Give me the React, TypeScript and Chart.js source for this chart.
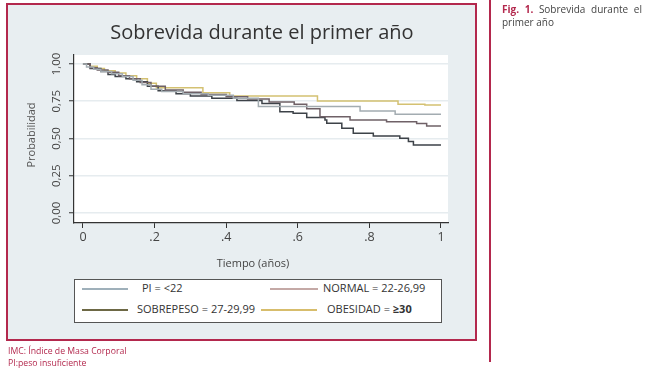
import React, { useEffect, useLayoutEffect, useRef } from "react";
import { Chart, registerables } from "chart.js";

Chart.register(...registerables);

// ---------- text ----------
const TITLE = "Sobrevida durante el primer año";
const Y_TITLE = "Probabilidad";
const X_TITLE = "Tiempo (años)";
const CAPTION_FIG = "Fig. 1.";
const CAPTION_LINE1 = "Sobrevida durante el";
const CAPTION_LINE2 = "primer año";
const NOTE_1 = "IMC: Índice de Masa Corporal";
const NOTE_2 = "PI:peso insuficiente";

// ---------- ticks ----------
const X_TICKS = [0, 0.2, 0.4, 0.6, 0.8, 1];
const X_TICK_LABELS = ["0", ".2", ".4", ".6", ".8", "1"];
const Y_TICKS = [0, 0.25, 0.5, 0.75, 1];
const Y_TICK_LABELS = ["0,00", "0,25", "0,50", "0,75", "1,00"];

// ---------- series ----------
const SERIES_NAMES = ["PI = <22", "NORMAL = 22-26,99", "SOBREPESO = 27-29,99", "OBESIDAD = "];
const OBESIDAD_BOLD = "≥30";

const PI_T = [0, 0.01, 0.03, 0.05, 0.08, 0.11, 0.14, 0.165, 0.19, 0.22, 0.28, 0.35, 0.42, 0.49, 0.774, 0.872, 1];
const PI_S = [1, 0.98, 0.965, 0.95, 0.935, 0.915, 0.89, 0.86, 0.83, 0.815, 0.8, 0.79, 0.77, 0.714, 0.685, 0.662, 0.662];

const NORMAL_T = [0, 0.02, 0.04, 0.07, 0.1, 0.13, 0.16, 0.19, 0.23, 0.28, 0.33, 0.4, 0.46, 0.52, 0.59, 0.625, 0.662, 0.746, 0.848, 0.932, 0.96, 1];
const NORMAL_S = [1, 0.975, 0.96, 0.945, 0.92, 0.9, 0.875, 0.85, 0.825, 0.81, 0.795, 0.78, 0.765, 0.745, 0.73, 0.7, 0.645, 0.624, 0.613, 0.6, 0.584, 0.584];

const SOBREPESO_T = [0, 0.02, 0.05, 0.07, 0.09, 0.12, 0.15, 0.18, 0.21, 0.26, 0.3, 0.36, 0.43, 0.5, 0.55, 0.587, 0.625, 0.676, 0.681, 0.723, 0.755, 0.811, 0.885, 0.909, 0.923, 1];
const SOBREPESO_S = [1, 0.97, 0.95, 0.93, 0.915, 0.9, 0.88, 0.85, 0.82, 0.8, 0.785, 0.77, 0.755, 0.735, 0.68, 0.669, 0.64, 0.624, 0.602, 0.568, 0.535, 0.517, 0.501, 0.479, 0.456, 0.456];

const OBESIDAD_T = [0, 0.02, 0.04, 0.06, 0.09, 0.12, 0.15, 0.18, 0.205, 0.335, 0.41, 0.655, 0.88, 0.955, 1];
const OBESIDAD_S = [1, 0.985, 0.97, 0.955, 0.94, 0.92, 0.9, 0.87, 0.841, 0.807, 0.785, 0.752, 0.73, 0.725, 0.725];

// ---------- style ----------
const FONT = '"Open Sans", "Noto Sans", sans-serif';
const RED = "#b3284d";
const FRAME_BG = "#e8eef1";
const LINE_COLORS = ["#a3acb1", "#6f6167", "#3d4248", "#d4c172"];
const LEGEND_COLORS = ["#9fb0ba", "#c4a9a6", "#6d6845", "#d7bd6c"];

const W = 654;
const H = 374;
const AREA = { left: 74, top: 55, right: 448, bottom: 223 };

const pts = (t: number[], s: number[]) => t.map((x, i) => ({ x, y: s[i] }));

const decorPlugin = {
  id: "decor",
  beforeDraw(chart: any) {
    const { ctx, chartArea: a } = chart;
    ctx.save();
    ctx.fillStyle = "#ffffff";
    ctx.fillRect(a.left, a.top, a.right - a.left, a.bottom - a.top);
    ctx.restore();
  },
  afterDraw(chart: any) {
    const { ctx } = chart;
    const ys = chart.scales.y;
    ctx.save();
    ctx.fillStyle = "#444";
    ctx.font = `11.5px ${FONT}`;
    ctx.textAlign = "center";
    ctx.textBaseline = "middle";
    Y_TICKS.forEach((v, i) => {
      const py = ys.getPixelForValue(v);
      ctx.save();
      ctx.translate(57, py);
      ctx.rotate(-Math.PI / 2);
      ctx.fillText(Y_TICK_LABELS[i], 0, 0);
      ctx.restore();
    });
    ctx.fillStyle = "#555";
    ctx.font = `11px ${FONT}`;
    ctx.save();
    ctx.translate(32, 135);
    ctx.rotate(-Math.PI / 2);
    ctx.fillText(Y_TITLE, 0, 0);
    ctx.restore();
    ctx.restore();
  },
};

export default function App() {
  const ref = useRef<HTMLCanvasElement>(null);

  useLayoutEffect(() => {
    document.body.style.margin = "0";
  }, []);

  useEffect(() => {
    if (!ref.current) return;
    const series = [
      { label: SERIES_NAMES[0], t: PI_T, s: PI_S },
      { label: SERIES_NAMES[1], t: NORMAL_T, s: NORMAL_S },
      { label: SERIES_NAMES[2], t: SOBREPESO_T, s: SOBREPESO_S },
      { label: SERIES_NAMES[3] + OBESIDAD_BOLD, t: OBESIDAD_T, s: OBESIDAD_S },
    ];
    const chart = new Chart(ref.current, {
      type: "line",
      data: {
        datasets: series.map((d, i) => ({
          label: d.label,
          data: pts(d.t, d.s),
          borderColor: LINE_COLORS[i],
          borderWidth: 1.5,
          pointRadius: 0,
          stepped: "before",
          fill: false,
        })),
      },
      options: {
        responsive: false,
        animation: false,
        devicePixelRatio: 1,
        layout: {
          padding: { left: AREA.left, right: W - AREA.right, top: AREA.top, bottom: H - AREA.bottom - 30 },
        },
        plugins: {
          legend: { display: false },
          title: { display: false },
          tooltip: { enabled: false },
        },
        scales: {
          x: {
            type: "linear",
            min: -0.025,
            max: 1.0196,
            afterBuildTicks: (s: any) => {
              s.ticks = X_TICKS.map((v) => ({ value: v }));
            },
            afterFit: (s: any) => {
              s.height = 30;
            },
            ticks: {
              autoSkip: false,
              maxRotation: 0,
              padding: 2,
              color: "#444",
              font: { family: FONT, size: 12.5 },
              callback: (v: any) => {
                const i = X_TICKS.indexOf(Number(v));
                return i >= 0 ? X_TICK_LABELS[i] : "";
              },
            },
            grid: { drawOnChartArea: false, drawTicks: true, tickLength: 5, tickColor: "#333", tickWidth: 1 },
            border: { display: true, color: "#333", width: 1.2 },
          },
          y: {
            type: "linear",
            min: -0.067,
            max: 1.06,
            afterBuildTicks: (s: any) => {
              s.ticks = Y_TICKS.map((v) => ({ value: v }));
            },
            afterFit: (s: any) => {
              s.width = 0;
            },
            ticks: { display: false },
            grid: { color: "#e6ecef", lineWidth: 1.5, drawTicks: true, tickLength: 5, tickColor: "#333", tickWidth: 1 },
            border: { display: true, color: "#333", width: 1.2 },
          },
        },
      },
      plugins: [decorPlugin],
    } as any);
    return () => chart.destroy();
  }, []);

  const legendText: React.CSSProperties = {
    position: "absolute",
    fontSize: 11,
    color: "#333",
    whiteSpace: "nowrap",
    lineHeight: "14px",
  };
  const legendLine = (left: number, top: number, width: number, color: string): React.CSSProperties => ({
    position: "absolute",
    left,
    top,
    width,
    height: 1.5,
    background: color,
  });

  return (
    <div style={{ position: "relative", width: W, height: H, overflow: "hidden", fontFamily: FONT, background: "#fff" }}>
      <div
        style={{
          position: "absolute",
          left: 6,
          top: 3,
          width: 467,
          height: 334,
          border: `2px solid ${RED}`,
          background: FRAME_BG,
        }}
      />
      <canvas ref={ref} width={W} height={H} style={{ position: "absolute", left: 0, top: 0, width: W, height: H }} />
      <div
        style={{
          position: "absolute",
          left: 60,
          width: 404,
          top: 18,
          textAlign: "center",
          fontSize: 20,
          lineHeight: "27px",
          color: "#333",
        }}
      >
        {TITLE}
      </div>
      <div
        style={{
          position: "absolute",
          left: 193,
          width: 120,
          top: 255,
          textAlign: "center",
          fontSize: 11,
          lineHeight: "15px",
          color: "#444",
        }}
      >
        {X_TITLE}
      </div>
      {/* legend */}
      <div
        style={{
          position: "absolute",
          left: 74,
          top: 279,
          width: 368,
          height: 44,
          boxSizing: "border-box",
          border: "1px solid #555",
          background: "#fff",
        }}
      />
      <div style={legendLine(82, 288, 46, LEGEND_COLORS[0])} />
      <div style={{ ...legendText, left: 142, top: 281 }}>{SERIES_NAMES[0]}</div>
      <div style={legendLine(270, 288, 48, LEGEND_COLORS[1])} />
      <div style={{ ...legendText, left: 323, top: 281 }}>{SERIES_NAMES[1]}</div>
      <div style={legendLine(82, 309, 46, LEGEND_COLORS[2])} />
      <div style={{ ...legendText, left: 137, top: 302 }}>{SERIES_NAMES[2]}</div>
      <div style={legendLine(261, 309, 56, LEGEND_COLORS[3])} />
      <div style={{ ...legendText, left: 327, top: 302 }}>
        {SERIES_NAMES[3]}
        <b>{OBESIDAD_BOLD}</b>
      </div>
      {/* notes */}
      <div style={{ position: "absolute", left: 8, top: 345, fontSize: 8.7, lineHeight: "12px", color: RED }}>
        {NOTE_1}
        <br />
        {NOTE_2}
      </div>
      {/* separator + caption */}
      <div style={{ position: "absolute", left: 489, top: 0, width: 2, height: 362, background: RED }} />
      <div style={{ position: "absolute", left: 502, top: 3, width: 140, fontSize: 10, lineHeight: "13px", color: "#444" }}>
        <div style={{ textAlign: "justify", textAlignLast: "justify" }}>
          <b style={{ color: RED }}>{CAPTION_FIG}</b> {CAPTION_LINE1}
        </div>
        <div>{CAPTION_LINE2}</div>
      </div>
    </div>
  );
}
